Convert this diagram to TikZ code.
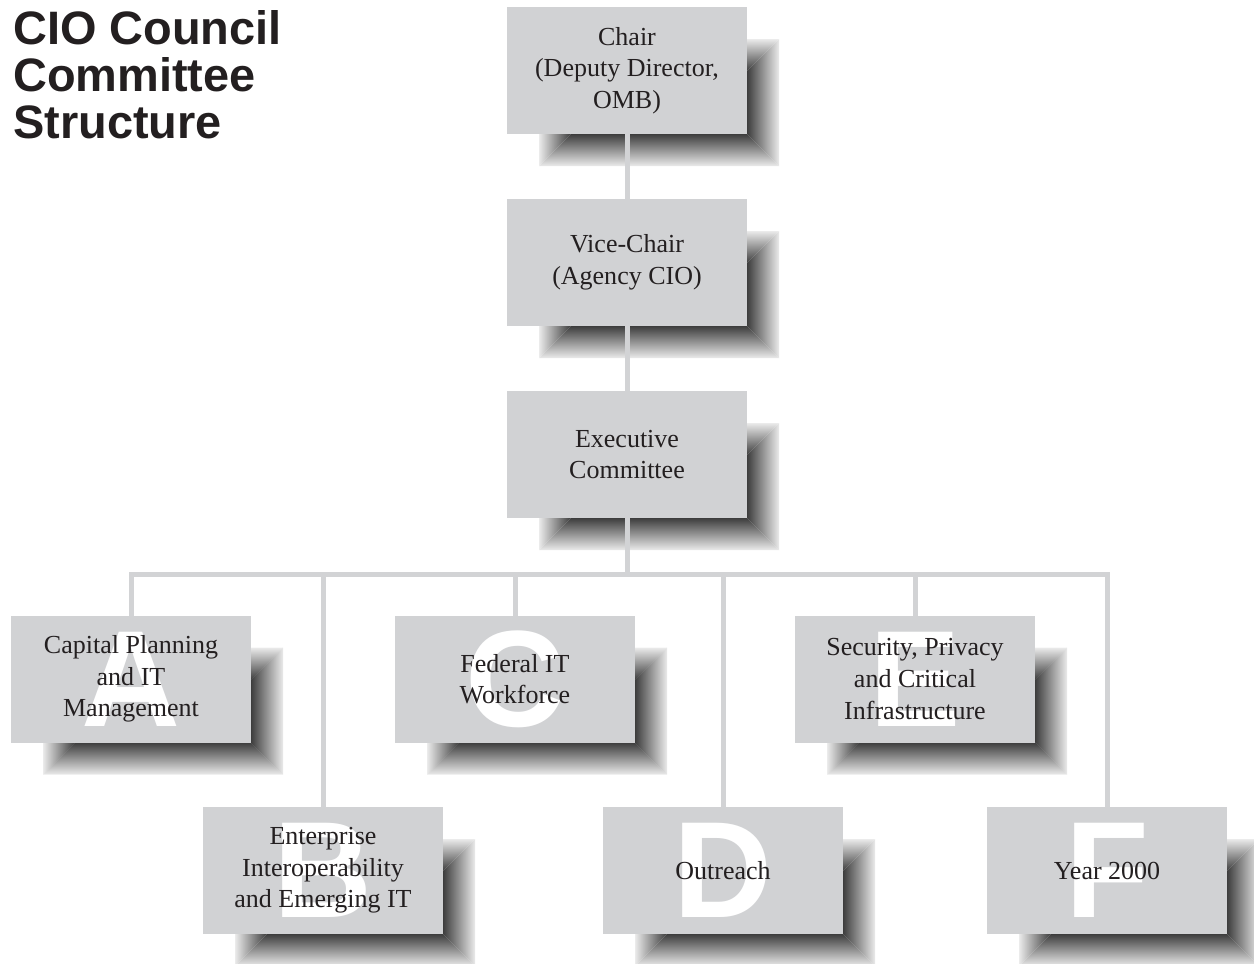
\documentclass[tikz,border=0pt]{standalone}
\usepackage{fontspec}
\setmainfont{Liberation Serif}
\setsansfont{Liberation Sans}
\usetikzlibrary{positioning,calc,backgrounds}

\definecolor{boxgray}{RGB}{209,210,212}
\definecolor{linegray}{RGB}{210,211,213}
\definecolor{inkgray}{RGB}{35,31,32}
\colorlet{shdark}{black!76}
\colorlet{shlight}{black!8}

% bevelled drop shadow behind a named box
\newcommand{\bevelshadow}[1]{%
  \coordinate (snw) at ($(#1.north west)+(0.64,-0.64)$);
  \coordinate (sse) at ($(#1.south east)+(0.64,-0.64)$);
  \coordinate (sne) at (sse |- snw);
  \coordinate (ssw) at (snw |- sse);
  \path[left color=shdark, right color=shlight] (sne) -- (sse) -- ($(sse)+(-0.64,0.64)$) -- ($(sne)+(-0.64,-0.64)$) -- cycle;
  \path[top color=shdark, bottom color=shlight] (ssw) -- (sse) -- ($(sse)+(-0.64,0.64)$) -- ($(ssw)+(0.64,0.64)$) -- cycle;
  \path[top color=shlight, bottom color=shdark] (snw) -- (sne) -- ($(sne)+(-0.64,-0.64)$) -- ($(snw)+(0.64,-0.64)$) -- cycle;
  \path[left color=shlight, right color=shdark] (snw) -- (ssw) -- ($(ssw)+(0.64,0.64)$) -- ($(snw)+(0.64,-0.64)$) -- cycle;
}

\begin{document}
\begin{tikzpicture}[
      every node/.style={align=center},
      box/.style={fill=boxgray, inner sep=0pt, outer sep=0pt,
        minimum width=4.8cm, minimum height=2.54cm, text=inkgray,
        font=\fontsize{14.8}{18}\selectfont},
      letter/.style={text=white, inner sep=0pt,
        font=\sffamily\bfseries\fontsize{78}{78}\selectfont},
      sub/.style={box, path picture={
        \node[letter] at (path picture bounding box.center) {#1};}},
      title/.style={inner sep=0pt, align=left, text=inkgray,
        font=\sffamily\bfseries\fontsize{26.7}{26.5}\selectfont},
      link/.style={draw=linegray, line width=0.1cm}
    ]
\useasboundingbox (0,0) rectangle (25.08,-19.28);

% Title
      \node[title, anchor=base west] (title) at (0.26,-2.76)
      {CIO Council\\Committee\\Structure};

% Nodes
      \node[box] (chair) at (12.54,-1.41) {Chair\\(Deputy Director,\\OMB)};
      \node[box, below=1.3cm of chair] (vice) {Vice-Chair\\(Agency CIO)};
      \node[box, below=1.3cm of vice] (exec) {Executive\\Committee};

      \node[sub=A] (a) at (2.62,-13.58) {Capital Planning\\and IT\\Management};
      \node[sub=C] (c) at (10.30,-13.58) {Federal IT\\Workforce};
      \node[sub=E] (e) at (18.30,-13.58) {Security, Privacy\\and Critical\\Infrastructure};
      \node[sub=B] (b) at (6.46,-17.41) {Enterprise\\Interoperability\\and Emerging IT};
      \node[sub=D] (d) at (14.46,-17.41) {Outreach};
      \node[sub=F] (f) at (22.14,-17.41) {Year 2000};

      \coordinate (bus) at (0,-11.49);

% Shadows
      \begin{scope}[on background layer]
        \foreach \n in {chair,vice,exec,a,b,c,d,e,f}{\bevelshadow{\n}}
      \end{scope}

% Connections
      \draw[link] (chair) -- (vice);
      \draw[link] (vice) -- (exec);
      \draw[link] (exec.south) -- (exec.south |- bus);
      \draw[link] (a.north) -- (a.north |- bus) -- (f.north |- bus) -- (f.north);
      \foreach \n in {b,c,d,e}
        \draw[link] (\n.north |- bus) -- (\n.north);

    \end{tikzpicture}
\end{document}
